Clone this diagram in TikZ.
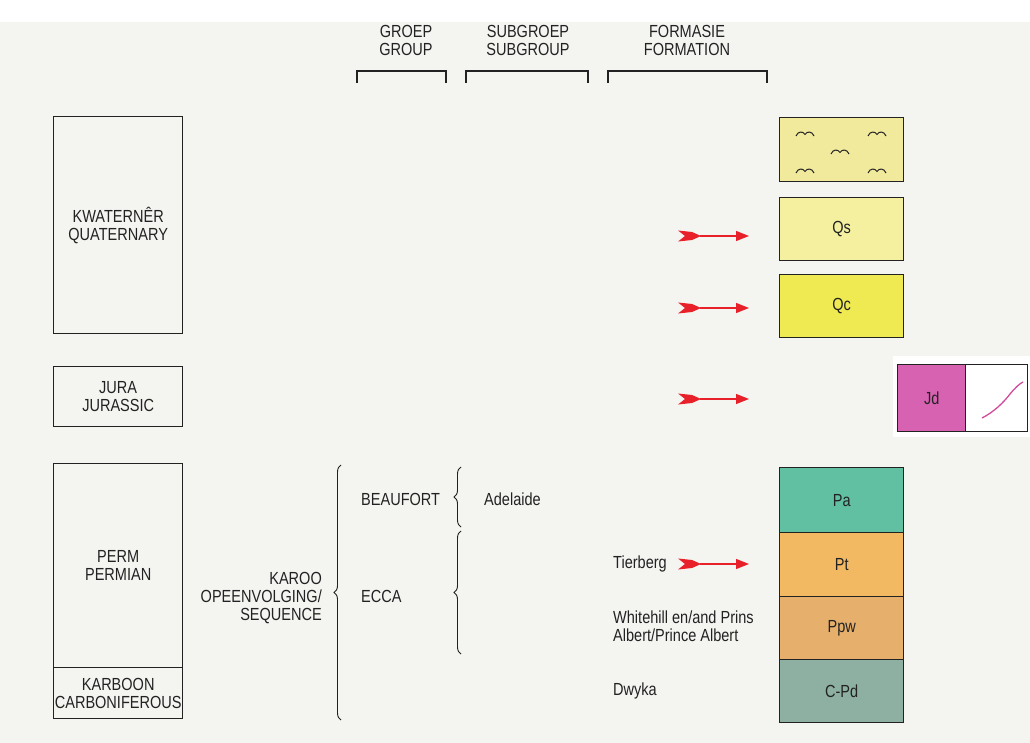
\documentclass[tikz,border=0pt]{standalone}
\usepackage{fontspec}
\setmainfont{Liberation Sans}[FakeStretch=0.83]
\usetikzlibrary{decorations.pathreplacing,arrows.meta,calc}
\definecolor{ink}{HTML}{222222}
\definecolor{bg}{HTML}{F4F4F1}
\definecolor{marsh}{HTML}{F1EA9C}
\definecolor{qs}{HTML}{F4F0A0}
\definecolor{qc}{HTML}{F0EA52}
\definecolor{jd}{HTML}{D862B2}
\definecolor{jdline}{HTML}{D24A9A}
\definecolor{pa}{HTML}{62C0A2}
\definecolor{pt}{HTML}{F2B862}
\definecolor{ppw}{HTML}{E6B06C}
\definecolor{cpd}{HTML}{8EB0A2}
\definecolor{arrred}{HTML}{E8202A}
\begin{document}
\begin{tikzpicture}[x=1pt,y=-1pt,
  txt/.style={font=\fontsize{17.5}{18}\selectfont, text=ink, inner sep=0pt, align=center},
  era/.style={draw=ink, line width=1.4pt, inner sep=0pt, anchor=north west, font=\fontsize{17.5}{18}\selectfont, text=ink, align=center},
  unit/.style={draw=ink, line width=1.4pt, inner sep=0pt, anchor=north west, font=\fontsize{17.5}{18}\selectfont, text=ink, minimum width=124pt},
  bracket/.style={draw=ink, line width=1.3pt},
  brc/.style={draw=ink, line width=0.9pt, decorate, decoration={brace, amplitude=7pt}},
  redline/.style={draw=arrred, line width=1.3pt, -{Triangle[length=13pt,width=10pt]}},
  fletch/.pic={\fill[arrred] (0,-5.5) -- (14,-4) -- (23,0) -- (14,4) -- (0,5.5) -- (7,0) -- cycle;},
  marshsym/.pic={\draw[ink, line width=1pt] (-9,2) .. controls (-7,-3) and (-2,-3) .. (0,0.5) .. controls (2,-3) and (7,-3) .. (9,2);}
]
\useasboundingbox (0,0) rectangle (1030,743);
\fill[bg] (0,22) rectangle (1030,743);
\fill[white] (0,0) rectangle (1030,22);

% headers
\node[txt] (hgroup) at (406,40) {GROEP\\GROUP};
\node[txt] (hsub) at (528,40) {SUBGROEP\\SUBGROUP};
\node[txt] (hform) at (687,40) {FORMASIE\\FORMATION};
\draw[bracket] (357,83) -- (357,71) -- (446,71) -- (446,83);
\draw[bracket] (466,83) -- (466,71) -- (588,71) -- (588,83);
\draw[bracket] (608,83) -- (608,71) -- (767,71) -- (767,83);

% eras
\node[era, minimum width=129pt, minimum height=217pt] (quat) at (53,116) {KWATERNÊR\\QUATERNARY};
\node[era, minimum width=129pt, minimum height=60pt] (jura) at (53,366) {JURA\\JURASSIC};
\node[era, minimum width=129pt, minimum height=204pt] (perm) at (53,463) {PERM\\PERMIAN};
\node[era, minimum width=129pt, minimum height=51pt] (karb) at (53,667) {KARBOON\\CARBONIFEROUS};

% karoo sequence
\node[txt, align=right, anchor=east] (karoo) at (322,598) {KAROO\\OPEENVOLGING/\\SEQUENCE};
\draw[brc] (341,720) -- (341,465);
\node[txt, anchor=west] (beau) at (361,499) {BEAUFORT};
\node[txt, anchor=west] (ecca) at (361,596) {ECCA};
\draw[brc] (461,527) -- (461,467);
\draw[brc] (461,654) -- (461,531);
\node[txt, anchor=west] (adel) at (484,499) {Adelaide};

% formation names
\node[txt, anchor=west] (tier) at (613,564) {Tierberg};
\node[txt, anchor=west, align=left] (white) at (613,626) {Whitehill en/and Prins\\Albert/Prince Albert};
\node[txt, anchor=west] (dwyka) at (613,691) {Dwyka};

% units
\node[unit, fill=marsh, minimum height=64pt] (marshbox) at (779,117) {};
\pic at (805,134) {marshsym};
\pic at (877,134) {marshsym};
\pic at (840,152) {marshsym};
\pic at (805,171) {marshsym};
\pic at (877,171) {marshsym};
\node[unit, fill=qs, minimum height=63pt] (qsbox) at (779,197) {Qs};
\node[unit, fill=qc, minimum height=63pt] (qcbox) at (779,274) {Qc};

\fill[white] (893,356) rectangle (1030,437);
\node[unit, fill=jd, minimum width=68pt, minimum height=67pt] (jdbox) at (897,364) {Jd};
\node[unit, fill=white, minimum width=62pt, minimum height=67pt] (jdlog) at (965,364) {};
\draw[jdline, line width=1.3pt] (982,418) .. controls (994,412) and (1004,402) .. (1010,394) .. controls (1015,388) and (1019,384) .. (1023,382);

\node[unit, fill=pa, minimum height=65pt] (pabox) at (779,467) {Pa};
\node[unit, fill=pt, minimum height=64pt] (ptbox) at (779,532) {Pt};
\node[unit, fill=ppw, minimum height=63pt] (ppwbox) at (779,596) {Ppw};
\node[unit, fill=cpd, minimum height=63pt] (cpdbox) at (779,659) {C-Pd};

% red arrows
\foreach \n/\yy in {a1/236, a2/308, a3/399, a4/564}{
  \coordinate (\n s) at (678,\yy);
  \coordinate (\n m) at (700,\yy);
  \coordinate (\n e) at (749,\yy);
  \pic at (\n s) {fletch};
  \draw[redline] (\n m) -- (\n e);
}
\end{tikzpicture}
\end{document}
